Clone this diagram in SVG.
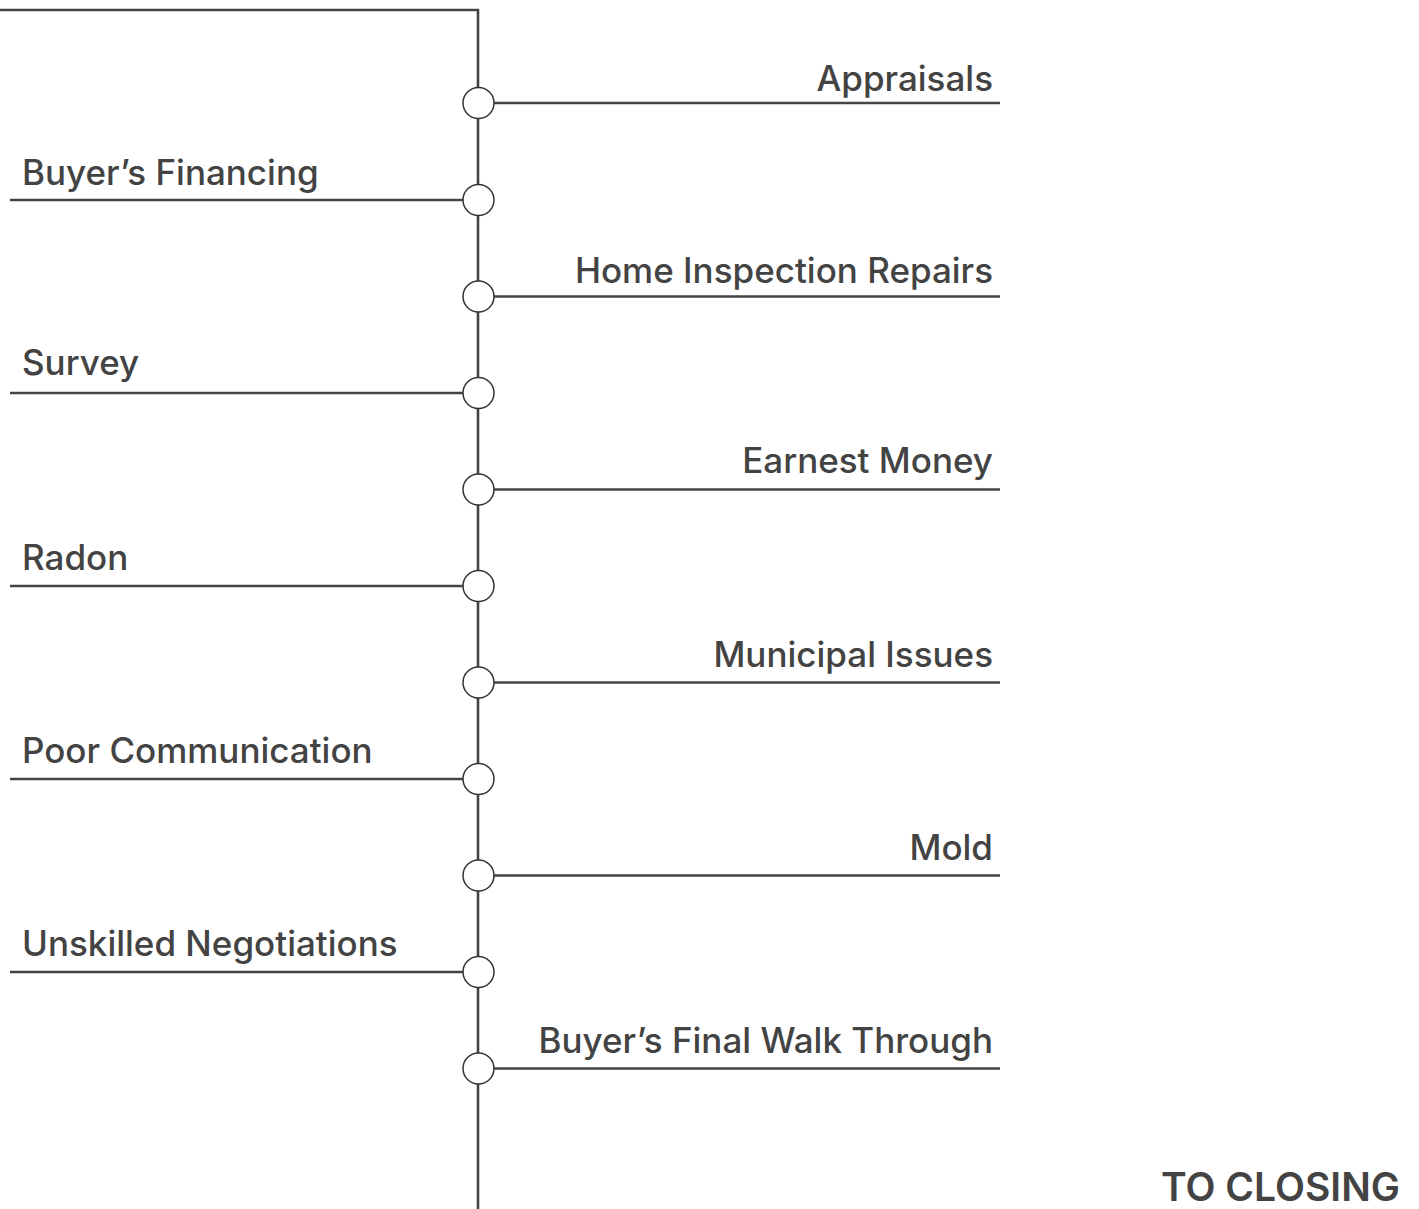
<svg xmlns="http://www.w3.org/2000/svg" width="1419" height="1209" viewBox="0 0 1419 1209">
  <style>
    .line { stroke: #444444; stroke-width: 2.6; fill: none; }
    .dot { fill: #ffffff; stroke: #333333; stroke-width: 1.5; }
    .lbl { font-family: Inter, "Noto Sans", sans-serif; font-size: 35px; font-weight: 500; fill: #434343; }
    .lbl.r { text-anchor: end; }
    .end { font-family: Inter, "Noto Sans", sans-serif; font-size: 39px; font-weight: 600; fill: #434343; text-anchor: end; }
  </style>
  <rect width="1419" height="1209" fill="#ffffff"/>

  <!-- spine and branch lines -->
  <g id="connectors">
    <polyline class="line" points="0,10 478,10 478,1209"/>
    <line class="line" x1="478" y1="103" x2="1000" y2="103"/>
    <line class="line" x1="10" y1="200" x2="478" y2="200"/>
    <line class="line" x1="478" y1="296.5" x2="1000" y2="296.5"/>
    <line class="line" x1="10" y1="393" x2="478" y2="393"/>
    <line class="line" x1="478" y1="489.5" x2="1000" y2="489.5"/>
    <line class="line" x1="10" y1="586" x2="478" y2="586"/>
    <line class="line" x1="478" y1="682.5" x2="1000" y2="682.5"/>
    <line class="line" x1="10" y1="779" x2="478" y2="779"/>
    <line class="line" x1="478" y1="875.5" x2="1000" y2="875.5"/>
    <line class="line" x1="10" y1="972" x2="478" y2="972"/>
    <line class="line" x1="478" y1="1068.5" x2="1000" y2="1068.5"/>
  </g>

  <g id="appraisals">
    <circle class="dot" cx="478.5" cy="103" r="15.5"/>
    <text class="lbl r" x="993" y="91">Appraisals</text>
  </g>
  <g id="buyers-financing">
    <circle class="dot" cx="478.5" cy="200" r="15.5"/>
    <text class="lbl" x="22" y="185">Buyer’s Financing</text>
  </g>
  <g id="home-inspection-repairs">
    <circle class="dot" cx="478.5" cy="296.5" r="15.5"/>
    <text class="lbl r" x="993" y="283">Home Inspection Repairs</text>
  </g>
  <g id="survey">
    <circle class="dot" cx="478.5" cy="393" r="15.5"/>
    <text class="lbl" x="22" y="375">Survey</text>
  </g>
  <g id="earnest-money">
    <circle class="dot" cx="478.5" cy="489.5" r="15.5"/>
    <text class="lbl r" x="993" y="473">Earnest Money</text>
  </g>
  <g id="radon">
    <circle class="dot" cx="478.5" cy="586" r="15.5"/>
    <text class="lbl" x="22" y="570">Radon</text>
  </g>
  <g id="municipal-issues">
    <circle class="dot" cx="478.5" cy="682.5" r="15.5"/>
    <text class="lbl r" x="993" y="667">Municipal Issues</text>
  </g>
  <g id="poor-communication">
    <circle class="dot" cx="478.5" cy="779" r="15.5"/>
    <text class="lbl" x="22" y="763">Poor Communication</text>
  </g>
  <g id="mold">
    <circle class="dot" cx="478.5" cy="875.5" r="15.5"/>
    <text class="lbl r" x="993" y="860">Mold</text>
  </g>
  <g id="unskilled-negotiations">
    <circle class="dot" cx="478.5" cy="972" r="15.5"/>
    <text class="lbl" x="22" y="956">Unskilled Negotiations</text>
  </g>
  <g id="final-walk-through">
    <circle class="dot" cx="478.5" cy="1068.5" r="15.5"/>
    <text class="lbl r" x="993" y="1053">Buyer’s Final Walk Through</text>
  </g>

  <g id="to-closing">
    <text class="end" x="1400" y="1201">TO CLOSING</text>
  </g>
</svg>
